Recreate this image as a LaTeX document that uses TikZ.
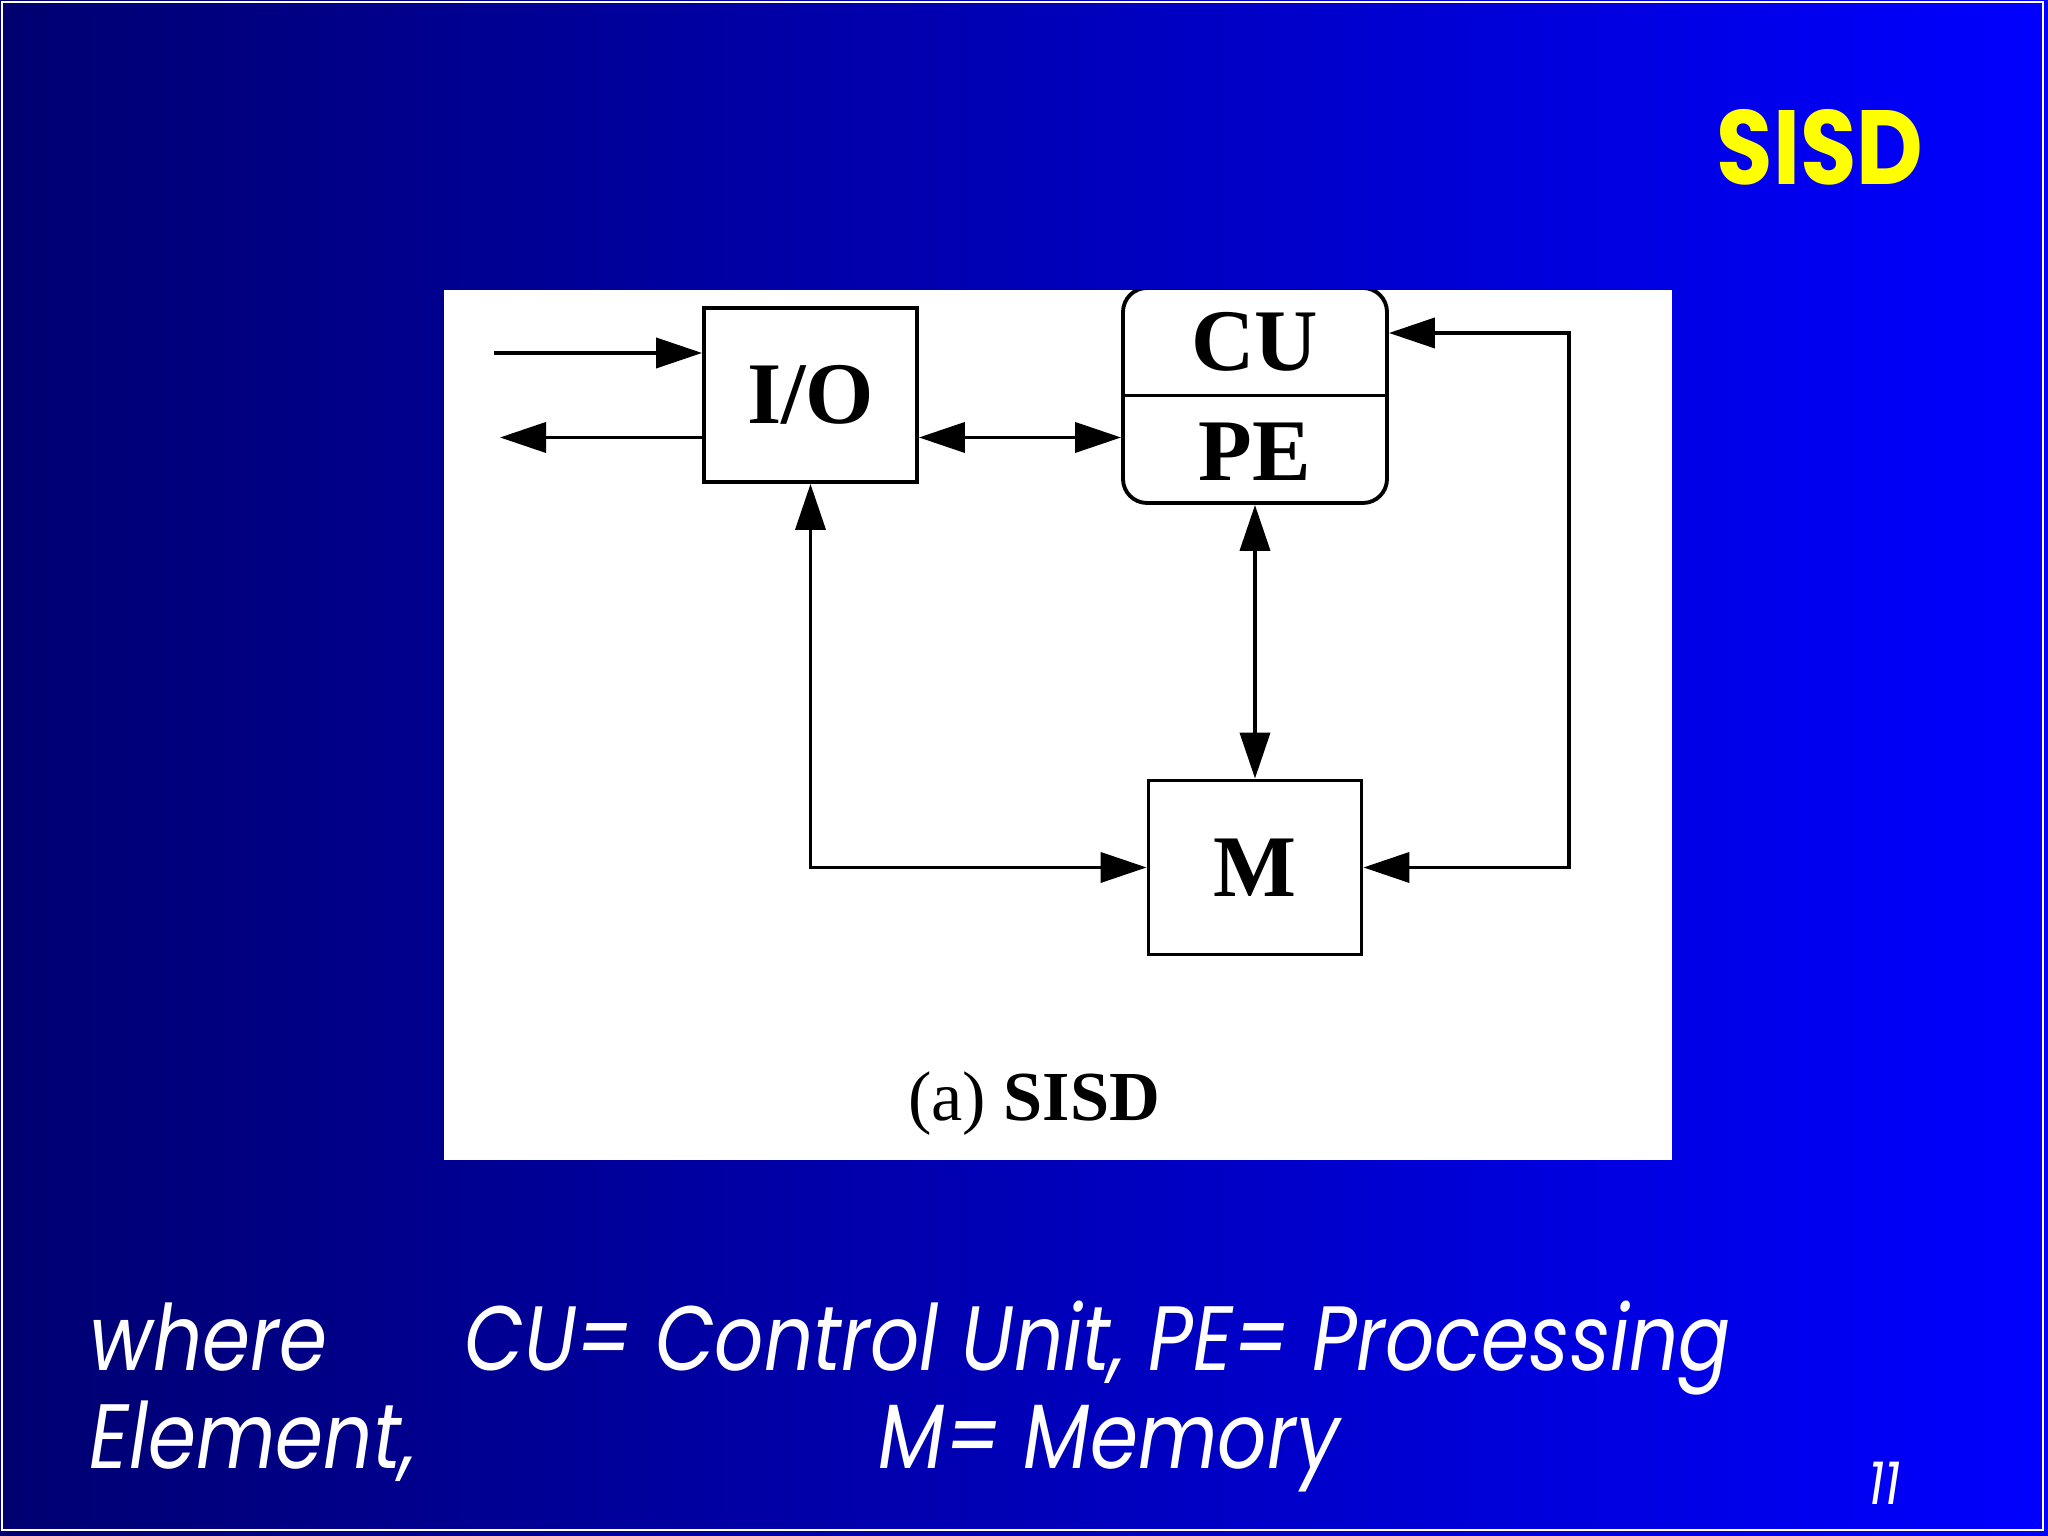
\documentclass[tikz,border=0pt]{standalone}
\usepackage{fontspec}
\setmainfont{Poppins}
\newfontfamily\notefont[FakeStretch=0.845]{Poppins}
\newfontfamily\headfont[FakeStretch=0.87]{Poppins}
\newfontfamily\figfont{Liberation Serif}
\usepackage{tikz}
\usetikzlibrary{arrows.meta,calc,positioning}

\definecolor{slideL}{RGB}{0,0,112}
\definecolor{slideR}{RGB}{0,0,255}
\definecolor{titleY}{RGB}{255,255,0}

\begin{document}
\begin{tikzpicture}[
    >={Triangle[length=4.6mm, width=3.0mm]},
    blk/.style={draw, line width=1.1pt, minimum width=2.13cm, minimum height=1.74cm,
      font=\figfont\bfseries\fontsize{25}{28}\selectfont, inner sep=0pt},
    proc/.style={blk, rounded corners=0.24cm, minimum width=2.64cm, minimum height=2.15cm},
    lbl/.style={font=\figfont\bfseries\fontsize{25}{28}\selectfont, inner sep=0pt},
    wire/.style={line width=1.1pt},
    note/.style={white, font=\notefont\itshape\fontsize{26}{30}\selectfont, inner sep=0pt, anchor=base west}
  ]
  \useasboundingbox (0,0) rectangle (20.48,15.36);
  \shade[left color=slideL, right color=slideR] (0,0) rectangle (20.48,15.36);
  \draw[white, line width=0.7pt] (0.02,0.06) rectangle (20.43,15.34);

  \node[titleY, font=\headfont\bfseries\fontsize{30}{34}\selectfont, anchor=base, inner sep=0pt]
    (title) at (18.2,13.51) {SISD};

  % figure panel
  \fill[white] (4.44,3.76) rectangle (16.72,12.46);
  \begin{scope}
    \clip (4.44,3.76) rectangle (16.72,12.46);
    \node[blk] (io) at (8.105,11.41) {I/O};
    \node[proc] (cpu) at (12.55,11.405) {};
    \draw[wire] (cpu.west) -- (cpu.east);
    \node[lbl] (cu) at ([yshift=0.54cm]cpu.center) {CU};
    \node[lbl] (pe) at ([yshift=-0.56cm]cpu.center) {PE};
    \node[blk] (mem) at (12.55,6.685) {M};

    \coordinate (inL) at (4.94,11.83);
    \coordinate (outL) at (5.00,10.985);
    \coordinate (rt) at (15.69,12.03);

    \draw[wire, ->] (inL) -- (inL -| io.west);
    \draw[wire, ->] (outL -| io.west) -- (outL);
    \draw[wire, <->] (io.east |- outL) -- (cpu.west |- outL);
    \draw[wire, <->] (io.south) |- (mem.west);
    \draw[wire, <->] (cpu.south) -- (mem.north);
    \draw[wire, <->] (cpu.east |- rt) -- (rt) |- (mem.east);

    \node[font=\figfont\fontsize{20}{23}\selectfont, anchor=base, inner sep=0pt]
      (cap) at (10.34,4.15) {(a) \textbf{SISD}};
  \end{scope}

  \node[note] (w1) at (0.89,1.65) {where};
  \node[note] (w2) at (4.64,1.65) {CU= Control Unit, PE= Processing};
  \node[note] (w3) at (0.89,0.67) {Element,};
  \node[note] (w4) at (8.78,0.67) {M= Memory};
  \node[note, font=\notefont\itshape\fontsize{17}{19}\selectfont] (pg) at (18.68,0.31) {11};
\end{tikzpicture}
\end{document}
